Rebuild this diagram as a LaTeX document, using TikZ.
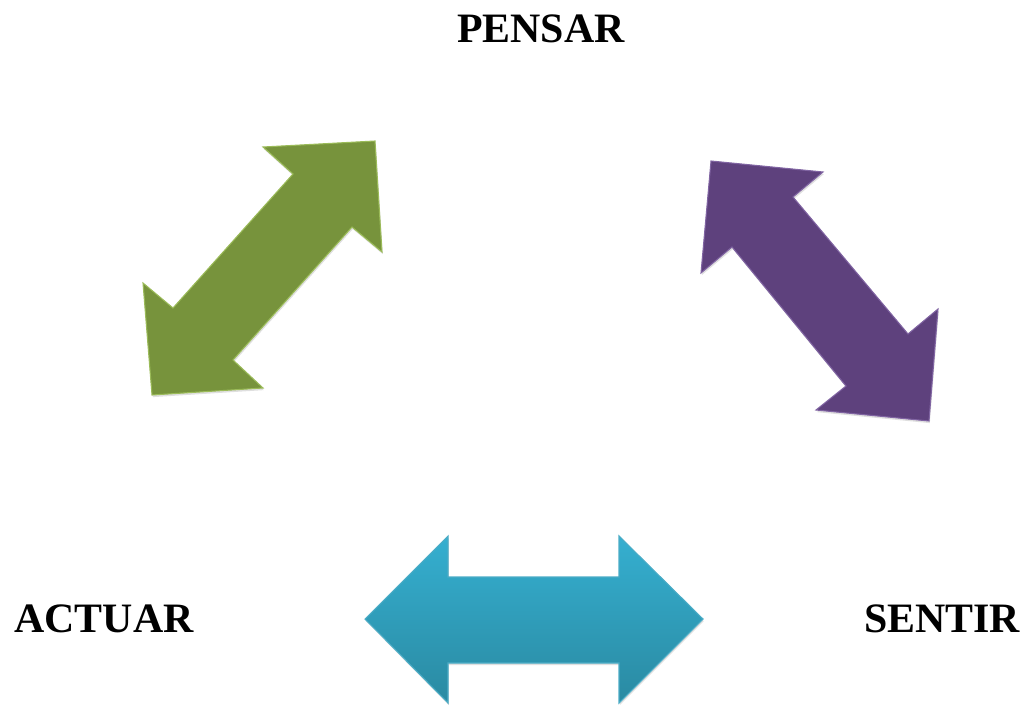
\documentclass[tikz,border=0pt]{standalone}
\usepackage{fontspec}
\setmainfont{Liberation Serif}
\usetikzlibrary{shadows}

\definecolor{hojaverde}{HTML}{77933C}
\definecolor{bordeverde}{HTML}{9BBB59}
\definecolor{uvamorada}{HTML}{5E417D}
\definecolor{bordemorado}{HTML}{8064A2}
\definecolor{aguaarriba}{HTML}{35AFD0}
\definecolor{aguaabajo}{HTML}{2A8AA2}
\definecolor{bordeagua}{HTML}{4BACC6}

\tikzset{
  flecha/.style={line width=0.8pt, line join=miter,
    drop shadow={shadow xshift=0.6pt, shadow yshift=-1.6pt, opacity=0.25}},
  palabra/.style={anchor=base, font=\bfseries\fontsize{31.4}{36}\selectfont}
}

\begin{document}
\begin{tikzpicture}[x=0.75pt, y=-0.75pt]
	\useasboundingbox (0,0) rectangle (1030,705);

	% Green arrow
	\draw[flecha, fill=hojaverde, draw=bordeverde]
		(375,141) -- (382,252) -- (352,227) -- (233,360) -- (263,388)
		-- (152,395) -- (143,283) -- (173,308) -- (293,174) -- (263,147) -- cycle;

	% Purple arrow
	\draw[flecha, fill=uvamorada, draw=bordemorado]
		(711,161) -- (823,172) -- (793,197) -- (908,334) -- (938,309)
		-- (929,421) -- (816,410) -- (846,386) -- (732,247) -- (701,273) -- cycle;

	% Blue arrow
	\draw[flecha, top color=aguaarriba, bottom color=aguaabajo, draw=bordeagua]
		(365,619) -- (448,536) -- (448,577) -- (619,577) -- (619,536)
		-- (703,619) -- (619,703) -- (619,663) -- (448,663) -- (448,703) -- cycle;

	% Words
	\node[palabra] (pensar) at (541,42.7) {PENSAR};
	\node[palabra] (actuar) at (104,632.7) {ACTUAR};
	\node[palabra] (sentir) at (942,632.7) {SENTIR};
\end{tikzpicture}
\end{document}
